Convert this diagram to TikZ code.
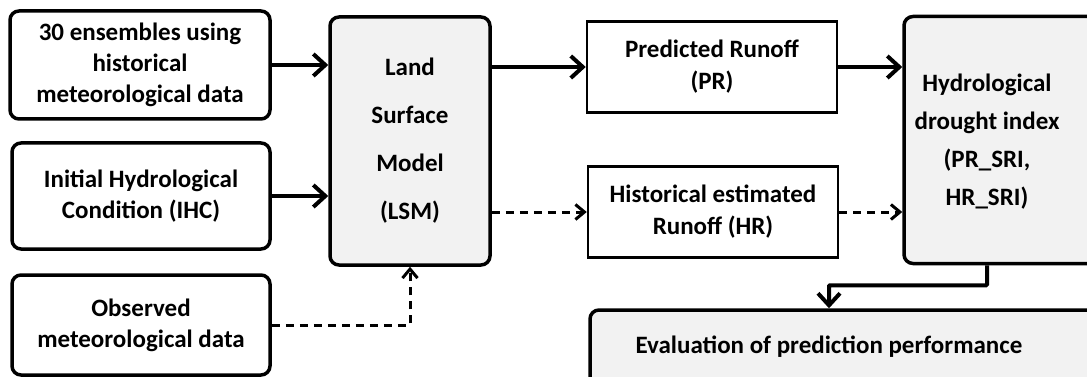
\documentclass[tikz,border=0pt]{standalone}
\usepackage{fontspec}
\setmainfont{Carlito}
\usetikzlibrary{arrows.meta}
\definecolor{boxgray}{RGB}{242,242,242}

\begin{document}
\begin{tikzpicture}[x=1pt, y=-1pt,
	roundbox/.style={draw, line width=3.5pt, rounded corners=9pt, align=center, font=\fontsize{25}{31}\selectfont\bfseries},
	plainbox/.style={draw, line width=2.5pt, align=center, font=\fontsize{25}{32}\selectfont\bfseries},
	solidarrow/.style={line width=4pt, -{Straight Barb[length=12pt,width=22pt]}},
	dasharrow/.style={line width=3pt, dash pattern=on 8pt off 6pt, -{Straight Barb[length=9pt,width=15pt]}}]
	\useasboundingbox (0,0) rectangle (1087,377);
	\node[roundbox, minimum width=260, minimum height=108] (ens) at (140,65) {30 ensembles using\\historical\\meteorological data};
	\node[roundbox, minimum width=258, minimum height=106] (ihc) at (141,196) {Initial Hydrological\\Condition (IHC)};
	\node[roundbox, minimum width=258, minimum height=100] (obs) at (141,325) {Observed\\meteorological data};
	\node[roundbox, fill=boxgray, minimum width=160, minimum height=248, font=\fontsize{25}{48}\selectfont\bfseries] (lsm) at (410,141) {Land\\Surface\\Model\\(LSM)};
	\node[plainbox, minimum width=250, minimum height=91] (pr) at (712,67) {Predicted Runoff\\(PR)};
	\node[plainbox, minimum width=250, minimum height=91] (hr) at (713,212) {Historical estimated\\Runoff (HR)};
	\node[roundbox, fill=boxgray, minimum width=200, minimum height=247] (hyd) at (1004,140) {};
	\node[align=center, font=\fontsize{25}{38}\selectfont\bfseries] (hydtext) at (987,142) {Hydrological\\drought index\\(PR\_SRI,\\HR\_SRI)};
	\node[roundbox, fill=boxgray, minimum width=520, minimum height=90] (eval) at (850,355) {};
	\node[font=\fontsize{25}{31}\selectfont\bfseries] (evaltext) at (829,347) {Evaluation of prediction performance};
	\draw[solidarrow] (ens.east) -- (ens.east -| lsm.west);
	\draw[solidarrow] (ihc.east) -- (ihc.east -| lsm.west);
	\draw[dasharrow] (obs.east) -| (lsm.south);
	\draw[solidarrow] (pr.west -| lsm.east) -- (pr.west);
	\draw[dasharrow] (hr.west -| lsm.east) -- (hr.west);
	\draw[solidarrow] (pr.east) -- (pr.east -| hyd.west);
	\draw[dasharrow] (hr.east) -- (hr.east -| hyd.west);
	\draw[solidarrow, rounded corners=1pt] (hyd.south -| hydtext) -- ++(0,20) -| (evaltext |- eval.north);
\end{tikzpicture}
\end{document}
